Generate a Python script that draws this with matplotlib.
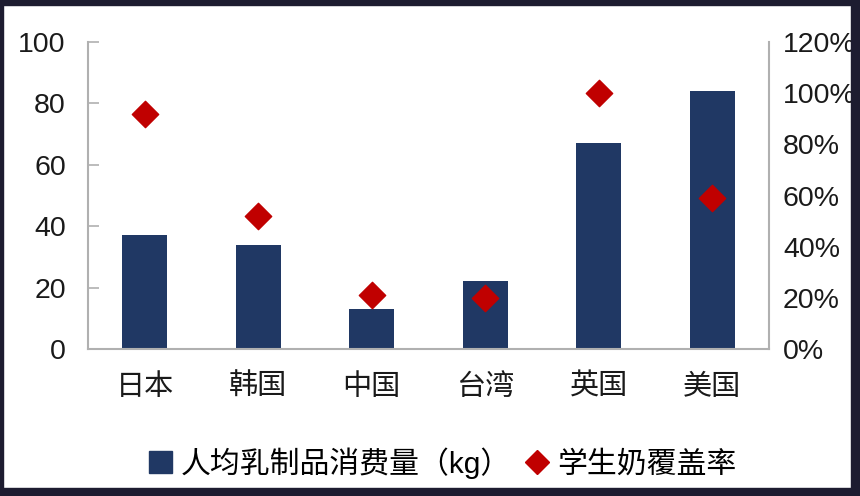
import matplotlib
matplotlib.use("Agg")
import matplotlib.pyplot as plt
from matplotlib.patches import Rectangle
from matplotlib.lines import Line2D
import numpy as np

plt.rcParams['font.family'] = ['Liberation Sans', 'Noto Sans CJK SC', 'DejaVu Sans']

# data
regions = ['日本', '韩国', '中国', '台湾', '英国', '美国']
dairy_kg = [37, 34, 13, 22, 67, 84]
milk_coverage = [0.92, 0.52, 0.21, 0.20, 1.00, 0.59]
left_ticks = [0, 20, 40, 60, 80, 100]
right_ticks = [0, 0.2, 0.4, 0.6, 0.8, 1.0, 1.2]

bar_color = '#203864'
dot_color = '#c00000'
axis_gray = '#b0b0b0'
frame_color = '#1d1c30'

fig = plt.figure(figsize=(8.6, 4.96), dpi=100)
fig.patch.set_facecolor('white')
ax = fig.add_axes([88 / 860, 1 - 349 / 496, (769 - 88) / 860, (349 - 42) / 496])
ax2 = ax.twinx()

x = np.arange(len(regions))
ax.bar(x, dairy_kg, width=0.4, color=bar_color, zorder=2)
ax2.scatter(x, milk_coverage, marker='D', s=180, color=dot_color, zorder=3)

ax.set_xlim(-0.5, len(regions) - 0.5)
ax.set_ylim(0, 100)
ax2.set_ylim(0, 1.2)
ax.set_yticks(left_ticks)
ax2.set_yticks(right_ticks)
ax2.set_yticklabels([f'{int(round(t * 100))}%' for t in right_ticks])
ax.set_xticks(x)
ax.set_xticklabels(regions)

for a in (ax, ax2):
    for s in a.spines.values():
        s.set_visible(False)
ax.spines['left'].set_visible(True)
ax.spines['bottom'].set_visible(True)
ax2.spines['right'].set_visible(True)
for s in (ax.spines['left'], ax.spines['bottom'], ax2.spines['right']):
    s.set_color(axis_gray)
    s.set_linewidth(1.5)

ax.tick_params(axis='y', direction='in', length=8, width=1.2, color=axis_gray,
               labelsize=20.5, labelcolor='#1a1a1a', pad=16)
ax.tick_params(axis='x', length=0, labelsize=21, labelcolor='#1a1a1a', pad=17)
ax2.tick_params(axis='y', length=0, labelsize=20.5, labelcolor='#1a1a1a', pad=10)

handles = [
    Rectangle((0, 0), 1, 1, color=bar_color),
    Line2D([], [], marker='D', linestyle='none', color=dot_color, markersize=12),
]
fig.legend(handles, ['人均乳制品消费量（kg）', '学生奶覆盖率'], loc='center',
           bbox_to_anchor=(0.515, 1 - 463 / 496), ncol=2, frameon=False,
           fontsize=21.5, handlelength=0.75, handleheight=0.75, handletextpad=0.3,
           columnspacing=0.5)

# dark frame around the picture (it cuts the right tick labels, as in the source)
W, H = 860, 496
for (x0, y0, w, h) in [(0, 0, W, 5), (0, H - 8, W, 8), (0, 0, 3, H), (W - 9, 0, 9, H)]:
    fig.patches.append(Rectangle((x0 / W, 1 - (y0 + h) / H), w / W, h / H,
                                 transform=fig.transFigure, color=frame_color,
                                 zorder=20))

fig.savefig('out.png', dpi=100)
